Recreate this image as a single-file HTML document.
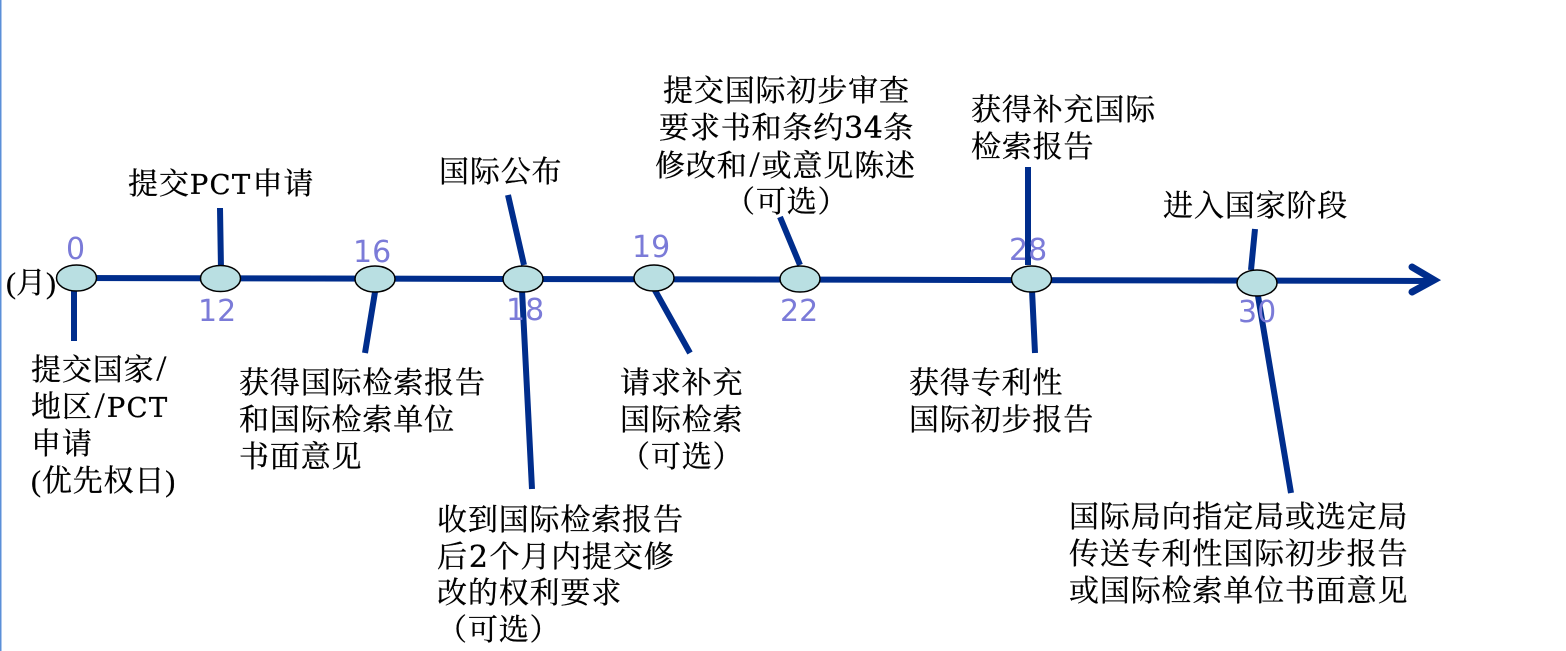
<!DOCTYPE html>
<html lang="zh">
<head>
<meta charset="utf-8">
<style>
html,body{margin:0;padding:0;background:#fff;width:1566px;height:651px;overflow:hidden}
svg{display:block;position:absolute;left:0;top:0}
.t{font-family:"Liberation Serif","Noto Serif CJK SC",serif;font-size:30px;fill:#000;letter-spacing:.85px;stroke:#000;stroke-width:.3}
.t tspan.d{font-family:"DejaVu Serif",serif;letter-spacing:.5px}
.t tspan.p{font-family:"DejaVu Serif",serif;font-size:27.5px;letter-spacing:1.3px}
.t tspan.s{font-size:36px;letter-spacing:0}
.n{font-family:"DejaVu Sans",sans-serif;font-size:30px;fill:#7b7bd8}
.l{stroke:#002d8c;stroke-width:6;fill:none}
ellipse{fill:#b9dfe2;stroke:#000;stroke-width:1.5}
</style>
</head>
<body>
<svg width="1566" height="651" viewBox="0 0 1566 651" xmlns="http://www.w3.org/2000/svg">
<rect x="0" y="0" width="1.5" height="651" fill="#5b8fd8"/>
<path class="l" d="M76 278 L1432 281"/>
<path class="l" stroke-linecap="round" style="stroke-width:7" d="M1412 267 L1434 280 L1412 292"/>
<path class="l" d="M74 290V341M220 208L221 270M375 292L365 353M508 195L524 265M522 290L532 489M652 285L690 353M780 217L800 265M1028 167V265M1032 290L1035 353M1255 229L1251 270M1257 290L1291 493"/>
<ellipse cx="76.500" cy="278" rx="20" ry="13"/>
<ellipse cx="220.500" cy="278.500" rx="20" ry="13"/>
<ellipse cx="375" cy="279" rx="20" ry="13"/>
<ellipse cx="523" cy="279" rx="20" ry="13"/>
<ellipse cx="654" cy="278" rx="20" ry="13"/>
<ellipse cx="800" cy="279" rx="20" ry="13"/>
<ellipse cx="1031.500" cy="279" rx="20" ry="13"/>
<ellipse cx="1257" cy="283" rx="20" ry="13"/>

<text class="n" x="66" y="259">0</text>
<text class="n" x="198" y="321">12</text>
<text class="n" x="353" y="262">16</text>
<text class="n" x="506" y="320">18</text>
<text class="n" x="632" y="257">19</text>
<text class="n" x="780" y="321">22</text>
<text class="n" x="1009" y="260">28</text>
<text class="n" x="1238" y="322">30</text>

<text class="t" x="6" y="293" style="letter-spacing:0">(月)</text>
<text class="t" x="128" y="194">提交<tspan class="p">PCT</tspan><tspan dx="1">申</tspan>请</text>
<text class="t" x="31" y="380">提交国家<tspan class="s" dx="2">/</tspan></text>
<text class="t" x="31" y="417">地区<tspan class="s" dx="2">/</tspan><tspan class="p" dx="2">PCT</tspan></text>
<text class="t" x="31" y="454">申请</text>
<text class="t" x="31" y="491">(优先权日)</text>
<text class="t" x="239" y="393">获得国际检索报告</text>
<text class="t" x="239" y="430">和国际检索单位</text>
<text class="t" x="239" y="467">书面意见</text>
<text class="t" x="439" y="182">国际公布</text>
<text class="t" x="437" y="530">收到国际检索报告</text>
<text class="t" x="437" y="567">后<tspan class="d" dx="1">2</tspan><tspan dx="1">个</tspan>月内提交修</text>
<text class="t" x="437" y="603">改的权利要求</text>
<text class="t" x="437" y="640">（可选）</text>
<text class="t" x="620" y="393">请求补充</text>
<text class="t" x="620" y="430">国际检索</text>
<text class="t" x="620" y="467">（可选）</text>
<text class="t" x="663" y="101">提交国际初步审查</text>
<text class="t" x="659" y="138">要求书和条约<tspan class="d">34</tspan>条</text>
<text class="t" x="655" y="176">修改和<tspan class="s" dx="2">/</tspan><tspan dx="2">或</tspan>意见陈述</text>
<text class="t" x="725" y="212">（可选）</text>
<text class="t" x="971" y="120">获得补充国际</text>
<text class="t" x="971" y="157">检索报告</text>
<text class="t" x="909" y="393">获得专利性</text>
<text class="t" x="909" y="430">国际初步报告</text>
<text class="t" x="1163" y="216">进入国家阶段</text>
<text class="t" x="1069" y="527">国际局向指定局或选定局</text>
<text class="t" x="1069" y="564">传送专利性国际初步报告</text>
<text class="t" x="1069" y="601">或国际检索单位书面意见</text>
</svg>
</body>
</html>
